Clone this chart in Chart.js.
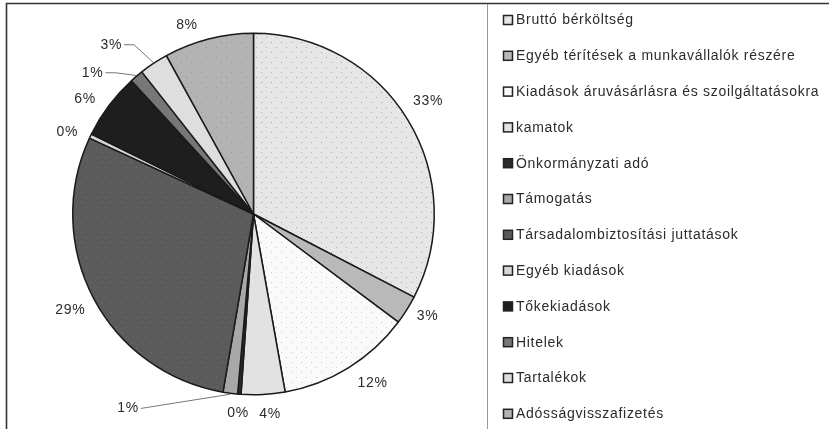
<!DOCTYPE html>
<html>
<head>
<meta charset="utf-8">
<script src="https://cdn.jsdelivr.net/npm/chart.js@4.4.1/dist/chart.umd.min.js"></script>
<style>
  html, body { margin: 0; padding: 0; background: #fff; }
  #wrap { width: 829px; height: 429px; }
</style>
</head>
<body>
<div id="wrap"><canvas id="budget-pie" width="829" height="429"></canvas></div>
<script>
// slice order = legend order, clockwise from 12 o'clock
const categories = [
    'Bruttó bérköltség',
    'Egyéb térítések a munkavállalók részére',
    'Kiadások áruvásárlásra és szoilgáltatásokra',
    'kamatok',
    'Önkormányzati adó',
    'Támogatás',
    'Társadalombiztosítási juttatások',
    'Egyéb kiadások',
    'Tőkekiadások',
    'Hitelek',
    'Tartalékok',
    'Adósságvisszafizetés'
];
const shares = [32.6, 2.6, 12.0, 3.9, 0.3, 1.3, 29.2, 0.4, 5.9, 1.2, 2.6, 8.0];

const fillColors = ['#e6e6e6', '#b9b9b9', '#fafafa', '#e2e2e2', '#2a2a2a', '#a8a8a8',
                    '#5b5b5b', '#d6d6d6', '#1e1e1e', '#777777', '#dedede', '#b3b3b3'];
const dotColors = ['#a6a6a6', null, '#c8c8c8', null, null, null,
                   '#707070', null, null, null, null, '#999999'];

const FONT = '14px "Liberation Sans", Arial, sans-serif';
const SPACING = '0.7px';
const TEXT = '#2b2b2b';

function dotted(bg, dot) {
    if (!dot) return bg;
    const c = document.createElement('canvas');
    c.width = 10; c.height = 10;
    const g = c.getContext('2d');
    g.fillStyle = bg;
    g.fillRect(0, 0, 10, 10);
    g.fillStyle = dot;
    g.fillRect(1, 2, 1, 1);
    g.fillRect(6, 7, 1, 1);
    return g.createPattern(c, 'repeat');
}

// labels moved aside (leader line back to the slice for the small ones)
const nudge = {
    0: [-2, -5], 1: [2, -6], 2: [12, -4], 3: [6, 3], 4: [0, 2],
    5: [-100, -2], 7: [-3, 6], 8: [-6, 7], 9: [-30, 13], 10: [-31, -1], 11: [-17, 4]
};
const leaders = [5, 9, 10];

const pctLabels = {
    id: 'pctLabels',
    afterDatasetsDraw(chart) {
        const ctx = chart.ctx;
        const arcs = chart.getDatasetMeta(0).data;
        const total = shares.reduce((a, b) => a + b, 0);
        ctx.save();
        ctx.font = FONT;
        ctx.letterSpacing = SPACING;
        ctx.fillStyle = TEXT;
        ctx.textAlign = 'center';
        ctx.textBaseline = 'middle';
        arcs.forEach((arc, i) => {
            const txt = Math.round(shares[i] / total * 100) + '%';
            const a = (arc.startAngle + arc.endAngle) / 2;
            const w = ctx.measureText(txt).width, h = 12;
            const ext = Math.abs(Math.cos(a)) * w / 2 + Math.abs(Math.sin(a)) * h / 2;
            const r = arc.outerRadius + 10 + ext;
            let x = arc.x + Math.cos(a) * r;
            let y = arc.y + Math.sin(a) * r;
            if (nudge[i]) { x += nudge[i][0]; y += nudge[i][1]; }
            ctx.fillText(txt, x, y);
            if (leaders.includes(i)) {
                const ex = arc.x + Math.cos(a) * (arc.outerRadius + 1);
                const ey = arc.y + Math.sin(a) * (arc.outerRadius + 1);
                ctx.strokeStyle = '#777';
                ctx.lineWidth = 1;
                ctx.beginPath();
                ctx.moveTo(x + w / 2 + 2, y);
                if (i !== 5) {
                    ctx.lineTo(x + w / 2 + 12, y);
                }
                ctx.lineTo(ex, ey);
                ctx.stroke();
            }
        });
        ctx.restore();
    }
};

const frameAndLegend = {
    id: 'frameAndLegend',
    afterDraw(chart) {
        const ctx = chart.ctx;
        const ds = chart.data.datasets[0];
        ctx.save();
        // outer frame (top + left) and legend box edge
        ctx.strokeStyle = '#333';
        ctx.lineWidth = 1.6;
        ctx.beginPath();
        ctx.moveTo(6.5, 429); ctx.lineTo(6.5, 3.5); ctx.lineTo(829, 3.5);
        ctx.stroke();
        ctx.strokeStyle = '#999';
        ctx.lineWidth = 1;
        ctx.beginPath();
        ctx.moveTo(487.5, 4); ctx.lineTo(487.5, 429);
        ctx.stroke();

        ctx.font = FONT;
        ctx.letterSpacing = SPACING;
        ctx.textAlign = 'left';
        ctx.textBaseline = 'middle';
        chart.data.labels.forEach((lab, i) => {
            const y = 20 + i * 35.8;
            ctx.fillStyle = ds.backgroundColor[i];
            ctx.fillRect(503.5, y - 4.5, 9, 9);
            ctx.strokeStyle = '#222';
            ctx.lineWidth = 1.5;
            ctx.strokeRect(503.5, y - 4.5, 9, 9);
            ctx.fillStyle = TEXT;
            ctx.fillText(lab, 516, y + 0.5);
        });
        ctx.restore();
    }
};

const ctx = document.getElementById('budget-pie').getContext('2d');
new Chart(ctx, {
    type: 'pie',
    data: {
        labels: categories,
        datasets: [{
            data: shares,
            backgroundColor: fillColors.map((c, i) => dotted(c, dotColors[i])),
            borderColor: '#1a1a1a',
            borderWidth: 1.5
        }]
    },
    options: {
        responsive: false,
        animation: false,
        layout: { padding: { left: 72, right: 394, top: 32, bottom: 33 } },
        plugins: {
            legend: { display: false },
            tooltip: { enabled: false }
        }
    },
    plugins: [pctLabels, frameAndLegend]
});
</script>
</body>
</html>
